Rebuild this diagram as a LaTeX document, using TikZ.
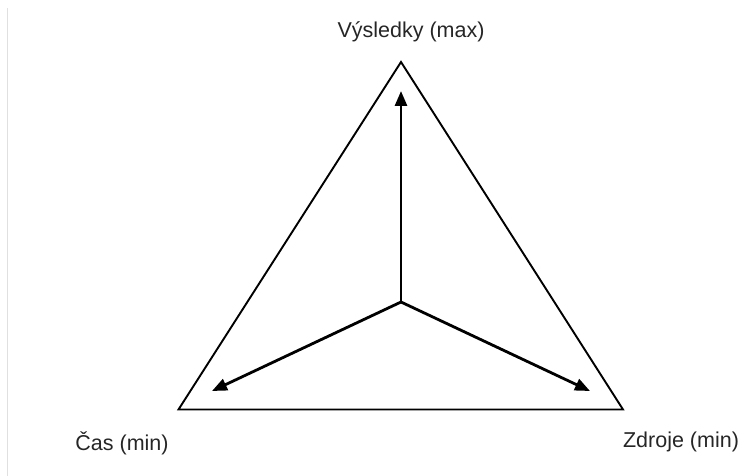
\documentclass[tikz,border=0pt]{standalone}
\usepackage{fontspec}
\setmainfont{Liberation Sans}
\usetikzlibrary{arrows.meta}
\begin{document}
\begin{tikzpicture}[x=1pt,y=-1pt,
  tri/.style={draw=black,line width=1.9pt,line join=miter},
  arr/.style={draw=black,line width=2.8pt,-{Triangle[length=15pt,width=12pt]}},
  lbl/.style={font=\fontsize{21.5}{24}\selectfont,text=black!85,inner sep=0pt}]
\useasboundingbox (0,0) rectangle (744,476);
\draw[black!12,line width=1.5pt] (7.5,8) -- (7.5,476);
\coordinate (T) at (401,62);
\coordinate (L) at (178.5,409.5);
\coordinate (R) at (623,409.5);
\coordinate (C) at (401,302);
\coordinate (TA) at (401,91);
\coordinate (LA) at (212,391);
\coordinate (RA) at (590,391);
\draw[tri] (T) -- (L) -- (R) -- cycle;
\draw[arr] (C) -- (TA);
\draw[arr] (C) -- (LA);
\draw[arr] (C) -- (RA);
\node[lbl] (vt) at (411,32) {Výsledky (max)};
\node[lbl] (vl) at (122,443) {Čas (min)};
\node[lbl] (vr) at (681,442) {Zdroje (min)};
\end{tikzpicture}
\end{document}
